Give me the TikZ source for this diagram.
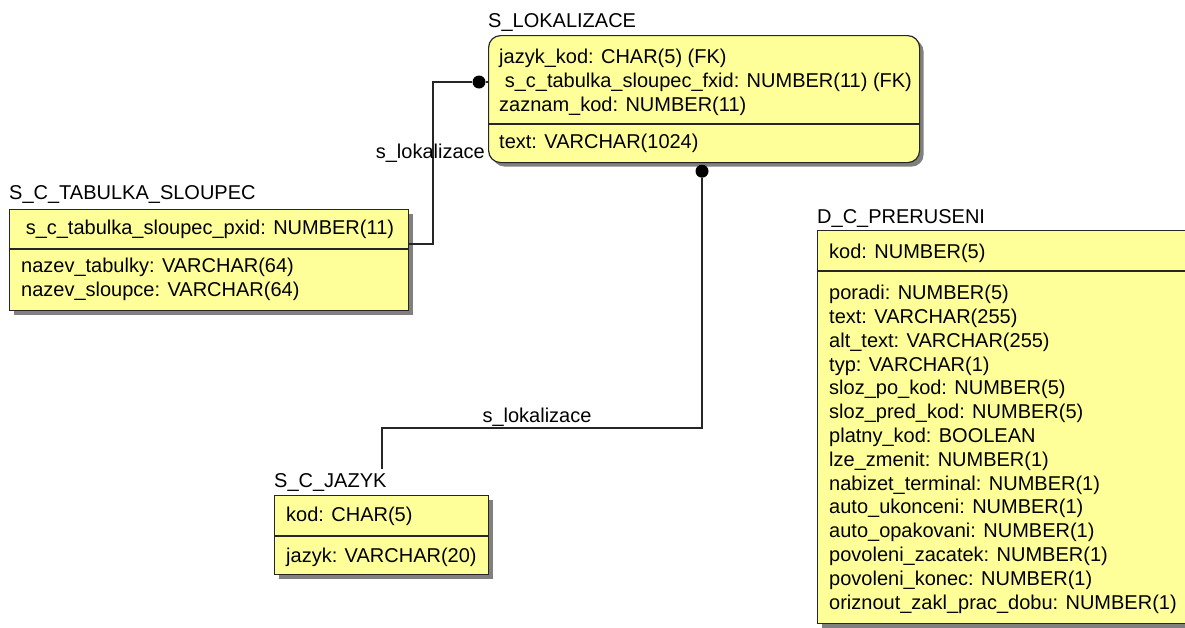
\documentclass[tikz,border=0pt]{standalone}
\usepackage{fontspec}
\setmainfont{Liberation Sans}
\usetikzlibrary{positioning, shadows}

\definecolor{erfill}{RGB}{255,255,153}

\begin{document}
\begin{tikzpicture}[x=1pt, y=-1pt, font=\fontsize{20}{23.8}\selectfont,
  entity/.style={draw=black!85, line width=1.2pt, fill=erfill, anchor=north west, inner sep=0pt,
    drop shadow={shadow xshift=4pt, shadow yshift=-4pt, fill=black!50, opacity=1}},
  etitle/.style={anchor=base west, inner sep=0pt},
  rows/.style={anchor=north west, inner sep=0pt, align=left},
  divider/.style={draw=black!85, line width=1.2pt},
  rel/.style={draw=black!85, line width=1.2pt},
  reldot/.style={circle, fill=black, inner sep=0pt, minimum size=13pt}]

\path[use as bounding box, fill=white] (0,0) rectangle (1185,627);

% S_LOKALIZACE
\node[entity, rounded corners=12pt, minimum width=431pt, minimum height=127pt] (lok) at (488,35) {};
\draw[divider] ([yshift=-89pt]lok.north west) -- ([yshift=-89pt]lok.north east);
\node[etitle] (lokt) at ([yshift=8pt]lok.north west) {S\_LOKALIZACE};
\node[rows] (lokkey) at ([xshift=11pt, yshift=-14pt]lok.north west)
  {jazyk\_kod: CHAR(5) (FK)\\\ s\_c\_tabulka\_sloupec\_fxid: NUMBER(11) (FK)\\zaznam\_kod: NUMBER(11)};
\node[rows] (lokattr) at ([xshift=11pt, yshift=-99pt]lok.north west) {text: VARCHAR(1024)};

% S_C_TABULKA_SLOUPEC
\node[entity, minimum width=399pt, minimum height=101pt] (tab) at (9,209) {};
\draw[divider] ([yshift=-40pt]tab.north west) -- ([yshift=-40pt]tab.north east);
\node[etitle] (tabt) at ([yshift=10pt]tab.north west) {S\_C\_TABULKA\_SLOUPEC};
\node[rows] (tabkey) at ([xshift=11pt, yshift=-11pt]tab.north west) {\ s\_c\_tabulka\_sloupec\_pxid: NUMBER(11)};
\node[rows] (tabattr) at ([xshift=12pt, yshift=-49pt]tab.north west)
  {nazev\_tabulky: VARCHAR(64)\\nazev\_sloupce: VARCHAR(64)};

% S_C_JAZYK
\node[entity, minimum width=214pt, minimum height=79pt] (jaz) at (274,495) {};
\draw[divider] ([yshift=-41pt]jaz.north west) -- ([yshift=-41pt]jaz.north east);
\node[etitle] (jazt) at ([yshift=8pt]jaz.north west) {S\_C\_JAZYK};
\node[rows] (jazkey) at ([xshift=12pt, yshift=-12pt]jaz.north west) {kod: CHAR(5)};
\node[rows] (jazattr) at ([xshift=12pt, yshift=-53pt]jaz.north west) {jazyk: VARCHAR(20)};

% D_C_PRERUSENI
\node[entity, minimum width=380pt, minimum height=393pt] (dcp) at (817,230) {};
\draw[divider] ([yshift=-41pt]dcp.north west) -- ([yshift=-41pt]dcp.north east);
\node[etitle] (dcpt) at ([yshift=7pt]dcp.north west) {D\_C\_PRERUSENI};
\node[rows] (dcpkey) at ([xshift=12pt, yshift=-14pt]dcp.north west) {kod: NUMBER(5)};
\node[rows] (dcpattr) at ([xshift=12pt, yshift=-55pt]dcp.north west)
  {poradi: NUMBER(5)\\text: VARCHAR(255)\\alt\_text: VARCHAR(255)\\typ: VARCHAR(1)\\
   sloz\_po\_kod: NUMBER(5)\\sloz\_pred\_kod: NUMBER(5)\\platny\_kod: BOOLEAN\\
   lze\_zmenit: NUMBER(1)\\nabizet\_terminal: NUMBER(1)\\auto\_ukonceni: NUMBER(1)\\
   auto\_opakovani: NUMBER(1)\\povoleni\_zacatek: NUMBER(1)\\povoleni\_konec: NUMBER(1)\\
   oriznout\_zakl\_prac\_dobu: NUMBER(1)};

% relationships
\node[reldot] (dot1) at ([xshift=-9pt]lok.west |- 0,82) {};
\node[reldot] (dot2) at ([yshift=-8pt]lok.south -| 702,0) {};
\coordinate (bend1) at (433,244);
\coordinate (bend2) at (382,428);
\draw[rel] (dot1) -- (dot1 -| lok.west);
\draw[rel] (dot1) -| (bend1) -- (bend1 -| tab.east);
\draw[rel] (dot2) |- (bend2) -- ([yshift=4pt]jazt.north -| bend2);

\node[etitle, anchor=base east] (lbl1) at (485,158) {s\_lokalizace};
\node[etitle, anchor=base] (lbl2) at (537,422) {s\_lokalizace};

\end{tikzpicture}
\end{document}
